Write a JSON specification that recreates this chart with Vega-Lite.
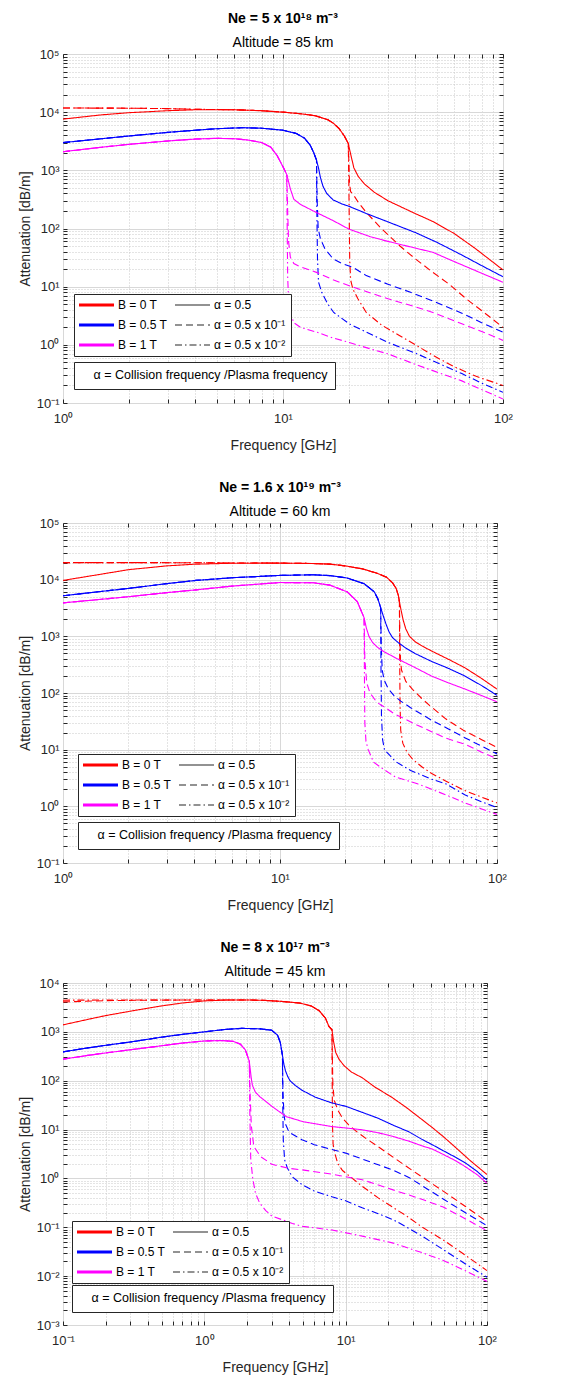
{
"$schema": "https://vega.github.io/schema/vega-lite/v6.json",
"background": "white",
"padding": {"left": 17, "top": 11, "right": 5, "bottom": 0},
"spacing": 27,
"resolve": {"scale": {"color": "independent", "strokeDash": "independent", "strokeWidth": "independent"}, "legend": {"color": "independent", "strokeDash": "independent", "strokeWidth": "independent"}},
"config": {
 "font": "Liberation Sans",
 "view": {"stroke": "#262626", "strokeWidth": 1},
 "title": {"fontSize": 14, "fontWeight": "bold", "color": "#000000", "subtitleFontSize": 14, "subtitleColor": "#000000", "subtitleFontWeight": "normal", "subtitlePadding": 10, "offset": -2, "frame": "group", "anchor": "middle"},
 "axis": {"domain": false, "labelFontSize": 13, "labelColor": "#262626", "titleFontSize": 14, "titleFontWeight": "normal", "titleColor": "#262626", "tickColor": "#262626", "tickSize": -4, "labelPadding": 8, "labelFlush": false, "labelOverlap": false, "labelBound": false,
  "gridColor": {"condition": {"test": "abs(log(datum.value)/LN10 - round(log(datum.value)/LN10)) < 0.01", "value": "#d8d8d8"}, "value": "#c8c8c8"},
  "gridDash": {"condition": {"test": "abs(log(datum.value)/LN10 - round(log(datum.value)/LN10)) < 0.01", "value": []}, "value": [1, 2]},
  "gridWidth": 1,
  "labelExpr": "abs(log(datum.value)/LN10 - round(log(datum.value)/LN10)) < 0.01 ? '10' + (round(log(datum.value)/LN10) == -3 ? '⁻³' : round(log(datum.value)/LN10) == -2 ? '⁻²' : round(log(datum.value)/LN10) == -1 ? '⁻¹' : round(log(datum.value)/LN10) == 0 ? '⁰' : round(log(datum.value)/LN10) == 1 ? '¹' : round(log(datum.value)/LN10) == 2 ? '²' : round(log(datum.value)/LN10) == 3 ? '³' : round(log(datum.value)/LN10) == 4 ? '⁴' : '⁵') : ''"
 },
 "axisBottom": {"labelPadding": 13, "titlePadding": 13},
 "legend": {"labelFont": "Liberation Sans", "labelColor": "#000000", "strokeColor": "#262626", "fillColor": "#ffffff", "orient": "none", "labelLimit": 400}
},
"datasets": {
"p1": [
{"c":"b0","d":"a1","f":1,"v":7600},{"c":"b0","d":"a1","f":1.5,"v":9000},{"c":"b0","d":"a1","f":2,"v":9800},{"c":"b0","d":"a1","f":3,"v":10600},{"c":"b0","d":"a1","f":4,"v":11000},{"c":"b0","d":"a1","f":6,"v":11000},{"c":"b0","d":"a1","f":8,"v":10600},{"c":"b0","d":"a1","f":10,"v":10000},{"c":"b0","d":"a1","f":12,"v":9400},{"c":"b0","d":"a1","f":14,"v":8700},{"c":"b0","d":"a1","f":16,"v":7400},{"c":"b0","d":"a1","f":17,"v":6400},{"c":"b0","d":"a1","f":18,"v":5200},{"c":"b0","d":"a1","f":19,"v":3900},{"c":"b0","d":"a1","f":19.8,"v":2900},{"c":"b0","d":"a1","f":20.3,"v":1900},{"c":"b0","d":"a1","f":21,"v":1100},{"c":"b0","d":"a1","f":22,"v":780},{"c":"b0","d":"a1","f":23.5,"v":580},{"c":"b0","d":"a1","f":26,"v":420},{"c":"b0","d":"a1","f":30,"v":300},{"c":"b0","d":"a1","f":35,"v":228},{"c":"b0","d":"a1","f":40,"v":180},{"c":"b0","d":"a1","f":48,"v":132},{"c":"b0","d":"a1","f":60,"v":82},{"c":"b0","d":"a1","f":75,"v":45},{"c":"b0","d":"a1","f":100,"v":19.4},
{"c":"b0","d":"a2","f":1,"v":11800},{"c":"b0","d":"a2","f":2,"v":11700},{"c":"b0","d":"a2","f":3,"v":11500},{"c":"b0","d":"a2","f":4,"v":11200},{"c":"b0","d":"a2","f":6,"v":11000},{"c":"b0","d":"a2","f":8,"v":10600},{"c":"b0","d":"a2","f":10,"v":10000},{"c":"b0","d":"a2","f":12,"v":9400},{"c":"b0","d":"a2","f":14,"v":8700},{"c":"b0","d":"a2","f":16,"v":7400},{"c":"b0","d":"a2","f":17,"v":6400},{"c":"b0","d":"a2","f":18,"v":5200},{"c":"b0","d":"a2","f":19,"v":3900},{"c":"b0","d":"a2","f":19.8,"v":2900},{"c":"b0","d":"a2","f":19.95,"v":1200},{"c":"b0","d":"a2","f":20.05,"v":600},{"c":"b0","d":"a2","f":20.3,"v":430},{"c":"b0","d":"a2","f":21,"v":370},{"c":"b0","d":"a2","f":22,"v":280},{"c":"b0","d":"a2","f":24,"v":186},{"c":"b0","d":"a2","f":28,"v":100},{"c":"b0","d":"a2","f":34,"v":50},{"c":"b0","d":"a2","f":40,"v":30},{"c":"b0","d":"a2","f":48,"v":17.6},{"c":"b0","d":"a2","f":57,"v":11},{"c":"b0","d":"a2","f":68,"v":6.2},{"c":"b0","d":"a2","f":82,"v":3.6},{"c":"b0","d":"a2","f":100,"v":2},
{"c":"b0","d":"a3","f":1,"v":11800},{"c":"b0","d":"a3","f":2,"v":11700},{"c":"b0","d":"a3","f":3,"v":11500},{"c":"b0","d":"a3","f":4,"v":11200},{"c":"b0","d":"a3","f":6,"v":11000},{"c":"b0","d":"a3","f":8,"v":10600},{"c":"b0","d":"a3","f":10,"v":10000},{"c":"b0","d":"a3","f":12,"v":9400},{"c":"b0","d":"a3","f":14,"v":8700},{"c":"b0","d":"a3","f":16,"v":7400},{"c":"b0","d":"a3","f":17,"v":6400},{"c":"b0","d":"a3","f":18,"v":5200},{"c":"b0","d":"a3","f":19,"v":3900},{"c":"b0","d":"a3","f":19.8,"v":2900},{"c":"b0","d":"a3","f":19.9,"v":800},{"c":"b0","d":"a3","f":20,"v":150},{"c":"b0","d":"a3","f":20.1,"v":30},{"c":"b0","d":"a3","f":20.3,"v":13},{"c":"b0","d":"a3","f":20.8,"v":9},{"c":"b0","d":"a3","f":21.9,"v":6.2},{"c":"b0","d":"a3","f":23.9,"v":3.6},{"c":"b0","d":"a3","f":28,"v":2.2},{"c":"b0","d":"a3","f":33.8,"v":1.45},{"c":"b0","d":"a3","f":40,"v":1},{"c":"b0","d":"a3","f":48,"v":0.66},{"c":"b0","d":"a3","f":60,"v":0.42},{"c":"b0","d":"a3","f":75,"v":0.29},{"c":"b0","d":"a3","f":100,"v":0.2},
{"c":"b05","d":"a1","f":1,"v":3000},{"c":"b05","d":"a1","f":1.5,"v":3500},{"c":"b05","d":"a1","f":2,"v":3900},{"c":"b05","d":"a1","f":3,"v":4500},{"c":"b05","d":"a1","f":4,"v":4900},{"c":"b05","d":"a1","f":5,"v":5200},{"c":"b05","d":"a1","f":6.5,"v":5400},{"c":"b05","d":"a1","f":8,"v":5300},{"c":"b05","d":"a1","f":10,"v":4900},{"c":"b05","d":"a1","f":11.5,"v":4300},{"c":"b05","d":"a1","f":12.5,"v":3600},{"c":"b05","d":"a1","f":13.3,"v":2700},{"c":"b05","d":"a1","f":13.8,"v":2000},{"c":"b05","d":"a1","f":14.2,"v":1500},{"c":"b05","d":"a1","f":14.5,"v":1100},{"c":"b05","d":"a1","f":14.8,"v":750},{"c":"b05","d":"a1","f":15.2,"v":530},{"c":"b05","d":"a1","f":15.8,"v":400},{"c":"b05","d":"a1","f":16.9,"v":310},{"c":"b05","d":"a1","f":18.5,"v":265},{"c":"b05","d":"a1","f":20,"v":240},{"c":"b05","d":"a1","f":24,"v":180},{"c":"b05","d":"a1","f":30,"v":130},{"c":"b05","d":"a1","f":40,"v":85},{"c":"b05","d":"a1","f":50,"v":58},{"c":"b05","d":"a1","f":65,"v":35},{"c":"b05","d":"a1","f":80,"v":23},{"c":"b05","d":"a1","f":100,"v":14.8},
{"c":"b05","d":"a2","f":1,"v":3000},{"c":"b05","d":"a2","f":1.5,"v":3500},{"c":"b05","d":"a2","f":2,"v":3900},{"c":"b05","d":"a2","f":3,"v":4500},{"c":"b05","d":"a2","f":4,"v":4900},{"c":"b05","d":"a2","f":5,"v":5200},{"c":"b05","d":"a2","f":6.5,"v":5400},{"c":"b05","d":"a2","f":8,"v":5300},{"c":"b05","d":"a2","f":10,"v":4900},{"c":"b05","d":"a2","f":11.5,"v":4300},{"c":"b05","d":"a2","f":12.5,"v":3600},{"c":"b05","d":"a2","f":13.3,"v":2700},{"c":"b05","d":"a2","f":13.8,"v":2000},{"c":"b05","d":"a2","f":14.2,"v":1500},{"c":"b05","d":"a2","f":14.3,"v":300},{"c":"b05","d":"a2","f":14.45,"v":100},{"c":"b05","d":"a2","f":14.8,"v":66},{"c":"b05","d":"a2","f":15.5,"v":45},{"c":"b05","d":"a2","f":16.9,"v":30},{"c":"b05","d":"a2","f":18.5,"v":25},{"c":"b05","d":"a2","f":20.8,"v":21.5},{"c":"b05","d":"a2","f":23.9,"v":15.5},{"c":"b05","d":"a2","f":30,"v":11},{"c":"b05","d":"a2","f":38,"v":8},{"c":"b05","d":"a2","f":47.9,"v":5.7},{"c":"b05","d":"a2","f":65,"v":3.5},{"c":"b05","d":"a2","f":80,"v":2.4},{"c":"b05","d":"a2","f":100,"v":1.65},
{"c":"b05","d":"a3","f":1,"v":3000},{"c":"b05","d":"a3","f":1.5,"v":3500},{"c":"b05","d":"a3","f":2,"v":3900},{"c":"b05","d":"a3","f":3,"v":4500},{"c":"b05","d":"a3","f":4,"v":4900},{"c":"b05","d":"a3","f":5,"v":5200},{"c":"b05","d":"a3","f":6.5,"v":5400},{"c":"b05","d":"a3","f":8,"v":5300},{"c":"b05","d":"a3","f":10,"v":4900},{"c":"b05","d":"a3","f":11.5,"v":4300},{"c":"b05","d":"a3","f":12.5,"v":3600},{"c":"b05","d":"a3","f":13.3,"v":2700},{"c":"b05","d":"a3","f":13.8,"v":2000},{"c":"b05","d":"a3","f":14.2,"v":1500},{"c":"b05","d":"a3","f":14.25,"v":200},{"c":"b05","d":"a3","f":14.35,"v":30},{"c":"b05","d":"a3","f":14.5,"v":12},{"c":"b05","d":"a3","f":15,"v":8},{"c":"b05","d":"a3","f":16,"v":5},{"c":"b05","d":"a3","f":17,"v":3.6},{"c":"b05","d":"a3","f":20,"v":2.3},{"c":"b05","d":"a3","f":24,"v":1.64},{"c":"b05","d":"a3","f":30,"v":1.1},{"c":"b05","d":"a3","f":40,"v":0.72},{"c":"b05","d":"a3","f":48,"v":0.53},{"c":"b05","d":"a3","f":65,"v":0.32},{"c":"b05","d":"a3","f":80,"v":0.22},{"c":"b05","d":"a3","f":100,"v":0.153},
{"c":"b1","d":"a1","f":1,"v":2090},{"c":"b1","d":"a1","f":1.5,"v":2500},{"c":"b1","d":"a1","f":2,"v":2800},{"c":"b1","d":"a1","f":3,"v":3200},{"c":"b1","d":"a1","f":4,"v":3450},{"c":"b1","d":"a1","f":5,"v":3550},{"c":"b1","d":"a1","f":6,"v":3500},{"c":"b1","d":"a1","f":7,"v":3300},{"c":"b1","d":"a1","f":8,"v":3000},{"c":"b1","d":"a1","f":8.8,"v":2500},{"c":"b1","d":"a1","f":9.4,"v":1800},{"c":"b1","d":"a1","f":10,"v":1150},{"c":"b1","d":"a1","f":10.4,"v":850},{"c":"b1","d":"a1","f":10.8,"v":480},{"c":"b1","d":"a1","f":11.2,"v":318},{"c":"b1","d":"a1","f":12,"v":260},{"c":"b1","d":"a1","f":12.8,"v":229},{"c":"b1","d":"a1","f":14.2,"v":188},{"c":"b1","d":"a1","f":17,"v":135},{"c":"b1","d":"a1","f":20,"v":97},{"c":"b1","d":"a1","f":25,"v":72},{"c":"b1","d":"a1","f":30,"v":60},{"c":"b1","d":"a1","f":40,"v":46},{"c":"b1","d":"a1","f":48,"v":39},{"c":"b1","d":"a1","f":60,"v":27},{"c":"b1","d":"a1","f":80,"v":17},{"c":"b1","d":"a1","f":100,"v":11.9},
{"c":"b1","d":"a2","f":1,"v":2090},{"c":"b1","d":"a2","f":1.5,"v":2500},{"c":"b1","d":"a2","f":2,"v":2800},{"c":"b1","d":"a2","f":3,"v":3200},{"c":"b1","d":"a2","f":4,"v":3450},{"c":"b1","d":"a2","f":5,"v":3550},{"c":"b1","d":"a2","f":6,"v":3500},{"c":"b1","d":"a2","f":7,"v":3300},{"c":"b1","d":"a2","f":8,"v":3000},{"c":"b1","d":"a2","f":8.8,"v":2500},{"c":"b1","d":"a2","f":9.4,"v":1800},{"c":"b1","d":"a2","f":10,"v":1150},{"c":"b1","d":"a2","f":10.4,"v":850},{"c":"b1","d":"a2","f":10.5,"v":200},{"c":"b1","d":"a2","f":10.6,"v":60},{"c":"b1","d":"a2","f":10.8,"v":32},{"c":"b1","d":"a2","f":11.2,"v":25},{"c":"b1","d":"a2","f":12,"v":22},{"c":"b1","d":"a2","f":14.2,"v":17.6},{"c":"b1","d":"a2","f":17,"v":13},{"c":"b1","d":"a2","f":20,"v":10.4},{"c":"b1","d":"a2","f":25,"v":7.8},{"c":"b1","d":"a2","f":30,"v":6.2},{"c":"b1","d":"a2","f":40,"v":4.5},{"c":"b1","d":"a2","f":48,"v":3.6},{"c":"b1","d":"a2","f":65,"v":2.3},{"c":"b1","d":"a2","f":80,"v":1.7},{"c":"b1","d":"a2","f":100,"v":1.19},
{"c":"b1","d":"a3","f":1,"v":2090},{"c":"b1","d":"a3","f":1.5,"v":2500},{"c":"b1","d":"a3","f":2,"v":2800},{"c":"b1","d":"a3","f":3,"v":3200},{"c":"b1","d":"a3","f":4,"v":3450},{"c":"b1","d":"a3","f":5,"v":3550},{"c":"b1","d":"a3","f":6,"v":3500},{"c":"b1","d":"a3","f":7,"v":3300},{"c":"b1","d":"a3","f":8,"v":3000},{"c":"b1","d":"a3","f":8.8,"v":2500},{"c":"b1","d":"a3","f":9.4,"v":1800},{"c":"b1","d":"a3","f":10,"v":1150},{"c":"b1","d":"a3","f":10.4,"v":850},{"c":"b1","d":"a3","f":10.45,"v":100},{"c":"b1","d":"a3","f":10.5,"v":15},{"c":"b1","d":"a3","f":10.6,"v":6},{"c":"b1","d":"a3","f":10.8,"v":3.5},{"c":"b1","d":"a3","f":11.2,"v":2.4},{"c":"b1","d":"a3","f":12,"v":2},{"c":"b1","d":"a3","f":14.3,"v":1.64},{"c":"b1","d":"a3","f":17,"v":1.3},{"c":"b1","d":"a3","f":20,"v":1.1},{"c":"b1","d":"a3","f":25,"v":0.85},{"c":"b1","d":"a3","f":30,"v":0.7},{"c":"b1","d":"a3","f":40,"v":0.46},{"c":"b1","d":"a3","f":48,"v":0.36},{"c":"b1","d":"a3","f":65,"v":0.24},{"c":"b1","d":"a3","f":80,"v":0.17},{"c":"b1","d":"a3","f":100,"v":0.117}
],
"p2": [
{"c":"b0","d":"a1","f":1,"v":9700},{"c":"b0","d":"a1","f":1.5,"v":12500},{"c":"b0","d":"a1","f":2,"v":15000},{"c":"b0","d":"a1","f":3,"v":17500},{"c":"b0","d":"a1","f":4,"v":18700},{"c":"b0","d":"a1","f":6,"v":19500},{"c":"b0","d":"a1","f":10,"v":19600},{"c":"b0","d":"a1","f":14,"v":19300},{"c":"b0","d":"a1","f":17,"v":18800},{"c":"b0","d":"a1","f":20,"v":17500},{"c":"b0","d":"a1","f":24,"v":15500},{"c":"b0","d":"a1","f":28,"v":13000},{"c":"b0","d":"a1","f":31,"v":11000},{"c":"b0","d":"a1","f":33,"v":8800},{"c":"b0","d":"a1","f":34.3,"v":7000},{"c":"b0","d":"a1","f":35.1,"v":5300},{"c":"b0","d":"a1","f":35.5,"v":4100},{"c":"b0","d":"a1","f":36.2,"v":2800},{"c":"b0","d":"a1","f":37,"v":1900},{"c":"b0","d":"a1","f":38,"v":1350},{"c":"b0","d":"a1","f":39.5,"v":1000},{"c":"b0","d":"a1","f":42,"v":800},{"c":"b0","d":"a1","f":45,"v":680},{"c":"b0","d":"a1","f":50,"v":550},{"c":"b0","d":"a1","f":60,"v":390},{"c":"b0","d":"a1","f":71,"v":280},{"c":"b0","d":"a1","f":85,"v":180},{"c":"b0","d":"a1","f":100,"v":117},
{"c":"b0","d":"a2","f":1,"v":20000},{"c":"b0","d":"a2","f":2,"v":20000},{"c":"b0","d":"a2","f":4,"v":19900},{"c":"b0","d":"a2","f":6,"v":19700},{"c":"b0","d":"a2","f":10,"v":19600},{"c":"b0","d":"a2","f":14,"v":19300},{"c":"b0","d":"a2","f":17,"v":18800},{"c":"b0","d":"a2","f":20,"v":17500},{"c":"b0","d":"a2","f":24,"v":15500},{"c":"b0","d":"a2","f":28,"v":13000},{"c":"b0","d":"a2","f":31,"v":11000},{"c":"b0","d":"a2","f":33,"v":8800},{"c":"b0","d":"a2","f":34.3,"v":7000},{"c":"b0","d":"a2","f":35.1,"v":5300},{"c":"b0","d":"a2","f":35.5,"v":4100},{"c":"b0","d":"a2","f":35.7,"v":900},{"c":"b0","d":"a2","f":35.9,"v":400},{"c":"b0","d":"a2","f":36.3,"v":254},{"c":"b0","d":"a2","f":38,"v":160},{"c":"b0","d":"a2","f":40.8,"v":116},{"c":"b0","d":"a2","f":45,"v":80},{"c":"b0","d":"a2","f":49,"v":60},{"c":"b0","d":"a2","f":58,"v":35},{"c":"b0","d":"a2","f":70,"v":22},{"c":"b0","d":"a2","f":85,"v":15},{"c":"b0","d":"a2","f":100,"v":11},
{"c":"b0","d":"a3","f":1,"v":20000},{"c":"b0","d":"a3","f":2,"v":20000},{"c":"b0","d":"a3","f":4,"v":19900},{"c":"b0","d":"a3","f":6,"v":19700},{"c":"b0","d":"a3","f":10,"v":19600},{"c":"b0","d":"a3","f":14,"v":19300},{"c":"b0","d":"a3","f":17,"v":18800},{"c":"b0","d":"a3","f":20,"v":17500},{"c":"b0","d":"a3","f":24,"v":15500},{"c":"b0","d":"a3","f":28,"v":13000},{"c":"b0","d":"a3","f":31,"v":11000},{"c":"b0","d":"a3","f":33,"v":8800},{"c":"b0","d":"a3","f":34.3,"v":7000},{"c":"b0","d":"a3","f":35.1,"v":5300},{"c":"b0","d":"a3","f":35.5,"v":4100},{"c":"b0","d":"a3","f":35.6,"v":500},{"c":"b0","d":"a3","f":35.75,"v":60},{"c":"b0","d":"a3","f":36,"v":22},{"c":"b0","d":"a3","f":36.8,"v":13},{"c":"b0","d":"a3","f":38.5,"v":9},{"c":"b0","d":"a3","f":40.8,"v":6.8},{"c":"b0","d":"a3","f":45,"v":5},{"c":"b0","d":"a3","f":50,"v":3.8},{"c":"b0","d":"a3","f":58,"v":2.8},{"c":"b0","d":"a3","f":71,"v":1.9},{"c":"b0","d":"a3","f":85,"v":1.45},{"c":"b0","d":"a3","f":100,"v":1.15},
{"c":"b05","d":"a1","f":1,"v":5200},{"c":"b05","d":"a1","f":1.5,"v":6200},{"c":"b05","d":"a1","f":2,"v":7000},{"c":"b05","d":"a1","f":3,"v":8500},{"c":"b05","d":"a1","f":4.1,"v":9700},{"c":"b05","d":"a1","f":6,"v":10800},{"c":"b05","d":"a1","f":10,"v":11900},{"c":"b05","d":"a1","f":14.3,"v":12200},{"c":"b05","d":"a1","f":17,"v":11800},{"c":"b05","d":"a1","f":20.4,"v":10700},{"c":"b05","d":"a1","f":24.4,"v":8500},{"c":"b05","d":"a1","f":27.2,"v":6100},{"c":"b05","d":"a1","f":28.3,"v":4500},{"c":"b05","d":"a1","f":29.1,"v":3200},{"c":"b05","d":"a1","f":29.8,"v":2400},{"c":"b05","d":"a1","f":30.7,"v":1700},{"c":"b05","d":"a1","f":31.8,"v":1200},{"c":"b05","d":"a1","f":33,"v":950},{"c":"b05","d":"a1","f":35,"v":780},{"c":"b05","d":"a1","f":38,"v":620},{"c":"b05","d":"a1","f":41.8,"v":500},{"c":"b05","d":"a1","f":50,"v":360},{"c":"b05","d":"a1","f":60,"v":270},{"c":"b05","d":"a1","f":71,"v":200},{"c":"b05","d":"a1","f":85,"v":135},{"c":"b05","d":"a1","f":100,"v":91},
{"c":"b05","d":"a2","f":1,"v":5200},{"c":"b05","d":"a2","f":1.5,"v":6200},{"c":"b05","d":"a2","f":2,"v":7000},{"c":"b05","d":"a2","f":3,"v":8500},{"c":"b05","d":"a2","f":4.1,"v":9700},{"c":"b05","d":"a2","f":6,"v":10800},{"c":"b05","d":"a2","f":10,"v":11900},{"c":"b05","d":"a2","f":14.3,"v":12200},{"c":"b05","d":"a2","f":17,"v":11800},{"c":"b05","d":"a2","f":20.4,"v":10700},{"c":"b05","d":"a2","f":24.4,"v":8500},{"c":"b05","d":"a2","f":27.2,"v":6100},{"c":"b05","d":"a2","f":28.3,"v":4500},{"c":"b05","d":"a2","f":29.1,"v":3200},{"c":"b05","d":"a2","f":29.3,"v":600},{"c":"b05","d":"a2","f":29.6,"v":250},{"c":"b05","d":"a2","f":30.2,"v":170},{"c":"b05","d":"a2","f":31.5,"v":120},{"c":"b05","d":"a2","f":33.6,"v":89},{"c":"b05","d":"a2","f":36,"v":72},{"c":"b05","d":"a2","f":40,"v":55},{"c":"b05","d":"a2","f":50,"v":33},{"c":"b05","d":"a2","f":60,"v":23},{"c":"b05","d":"a2","f":71,"v":16.3},{"c":"b05","d":"a2","f":85,"v":11.5},{"c":"b05","d":"a2","f":100,"v":8.4},
{"c":"b05","d":"a3","f":1,"v":5200},{"c":"b05","d":"a3","f":1.5,"v":6200},{"c":"b05","d":"a3","f":2,"v":7000},{"c":"b05","d":"a3","f":3,"v":8500},{"c":"b05","d":"a3","f":4.1,"v":9700},{"c":"b05","d":"a3","f":6,"v":10800},{"c":"b05","d":"a3","f":10,"v":11900},{"c":"b05","d":"a3","f":14.3,"v":12200},{"c":"b05","d":"a3","f":17,"v":11800},{"c":"b05","d":"a3","f":20.4,"v":10700},{"c":"b05","d":"a3","f":24.4,"v":8500},{"c":"b05","d":"a3","f":27.2,"v":6100},{"c":"b05","d":"a3","f":28.3,"v":4500},{"c":"b05","d":"a3","f":29.1,"v":3200},{"c":"b05","d":"a3","f":29.2,"v":300},{"c":"b05","d":"a3","f":29.35,"v":40},{"c":"b05","d":"a3","f":29.7,"v":15},{"c":"b05","d":"a3","f":30.3,"v":10},{"c":"b05","d":"a3","f":32,"v":8},{"c":"b05","d":"a3","f":34,"v":6.2},{"c":"b05","d":"a3","f":40,"v":4.3},{"c":"b05","d":"a3","f":50,"v":3},{"c":"b05","d":"a3","f":58,"v":2.5},{"c":"b05","d":"a3","f":71,"v":1.6},{"c":"b05","d":"a3","f":85,"v":1.2},{"c":"b05","d":"a3","f":100,"v":0.95},
{"c":"b1","d":"a1","f":1,"v":3900},{"c":"b1","d":"a1","f":1.5,"v":4500},{"c":"b1","d":"a1","f":2,"v":5000},{"c":"b1","d":"a1","f":3,"v":5900},{"c":"b1","d":"a1","f":4.1,"v":6600},{"c":"b1","d":"a1","f":6,"v":7700},{"c":"b1","d":"a1","f":10,"v":8900},{"c":"b1","d":"a1","f":14.3,"v":8800},{"c":"b1","d":"a1","f":17,"v":8000},{"c":"b1","d":"a1","f":20.4,"v":6100},{"c":"b1","d":"a1","f":22.7,"v":4100},{"c":"b1","d":"a1","f":24.4,"v":2140},{"c":"b1","d":"a1","f":25,"v":1400},{"c":"b1","d":"a1","f":25.7,"v":1000},{"c":"b1","d":"a1","f":26.7,"v":780},{"c":"b1","d":"a1","f":28,"v":650},{"c":"b1","d":"a1","f":30,"v":540},{"c":"b1","d":"a1","f":34.8,"v":400},{"c":"b1","d":"a1","f":42,"v":280},{"c":"b1","d":"a1","f":49.8,"v":200},{"c":"b1","d":"a1","f":60,"v":150},{"c":"b1","d":"a1","f":71.4,"v":117},{"c":"b1","d":"a1","f":85,"v":90},{"c":"b1","d":"a1","f":100,"v":70},
{"c":"b1","d":"a2","f":1,"v":3900},{"c":"b1","d":"a2","f":1.5,"v":4500},{"c":"b1","d":"a2","f":2,"v":5000},{"c":"b1","d":"a2","f":3,"v":5900},{"c":"b1","d":"a2","f":4.1,"v":6600},{"c":"b1","d":"a2","f":6,"v":7700},{"c":"b1","d":"a2","f":10,"v":8900},{"c":"b1","d":"a2","f":14.3,"v":8800},{"c":"b1","d":"a2","f":17,"v":8000},{"c":"b1","d":"a2","f":20.4,"v":6100},{"c":"b1","d":"a2","f":22.7,"v":4100},{"c":"b1","d":"a2","f":24.4,"v":2140},{"c":"b1","d":"a2","f":24.6,"v":400},{"c":"b1","d":"a2","f":25.1,"v":150},{"c":"b1","d":"a2","f":26,"v":100},{"c":"b1","d":"a2","f":28,"v":68},{"c":"b1","d":"a2","f":30,"v":58},{"c":"b1","d":"a2","f":33.6,"v":43},{"c":"b1","d":"a2","f":43,"v":27},{"c":"b1","d":"a2","f":58,"v":16},{"c":"b1","d":"a2","f":71,"v":12.5},{"c":"b1","d":"a2","f":85,"v":9},{"c":"b1","d":"a2","f":100,"v":6.9},
{"c":"b1","d":"a3","f":1,"v":3900},{"c":"b1","d":"a3","f":1.5,"v":4500},{"c":"b1","d":"a3","f":2,"v":5000},{"c":"b1","d":"a3","f":3,"v":5900},{"c":"b1","d":"a3","f":4.1,"v":6600},{"c":"b1","d":"a3","f":6,"v":7700},{"c":"b1","d":"a3","f":10,"v":8900},{"c":"b1","d":"a3","f":14.3,"v":8800},{"c":"b1","d":"a3","f":17,"v":8000},{"c":"b1","d":"a3","f":20.4,"v":6100},{"c":"b1","d":"a3","f":22.7,"v":4100},{"c":"b1","d":"a3","f":24.4,"v":2140},{"c":"b1","d":"a3","f":24.5,"v":200},{"c":"b1","d":"a3","f":24.6,"v":30},{"c":"b1","d":"a3","f":24.9,"v":14},{"c":"b1","d":"a3","f":25.5,"v":10},{"c":"b1","d":"a3","f":27,"v":6},{"c":"b1","d":"a3","f":30,"v":4.5},{"c":"b1","d":"a3","f":34,"v":3.3},{"c":"b1","d":"a3","f":43,"v":2.5},{"c":"b1","d":"a3","f":50,"v":2},{"c":"b1","d":"a3","f":58,"v":1.6},{"c":"b1","d":"a3","f":71,"v":1.15},{"c":"b1","d":"a3","f":85,"v":0.9},{"c":"b1","d":"a3","f":100,"v":0.72}
],
"p3": [
{"c":"b0","d":"a1","f":0.1,"v":1390},{"c":"b0","d":"a1","f":0.15,"v":1800},{"c":"b0","d":"a1","f":0.2,"v":2150},{"c":"b0","d":"a1","f":0.3,"v":2650},{"c":"b0","d":"a1","f":0.5,"v":3400},{"c":"b0","d":"a1","f":0.7,"v":3900},{"c":"b0","d":"a1","f":1,"v":4300},{"c":"b0","d":"a1","f":1.5,"v":4500},{"c":"b0","d":"a1","f":2,"v":4500},{"c":"b0","d":"a1","f":2.7,"v":4400},{"c":"b0","d":"a1","f":3.5,"v":4200},{"c":"b0","d":"a1","f":4.7,"v":3900},{"c":"b0","d":"a1","f":5.7,"v":3400},{"c":"b0","d":"a1","f":6.5,"v":2700},{"c":"b0","d":"a1","f":7.2,"v":1900},{"c":"b0","d":"a1","f":7.6,"v":1300},{"c":"b0","d":"a1","f":8,"v":1100},{"c":"b0","d":"a1","f":8.2,"v":650},{"c":"b0","d":"a1","f":8.5,"v":380},{"c":"b0","d":"a1","f":9,"v":270},{"c":"b0","d":"a1","f":9.8,"v":200},{"c":"b0","d":"a1","f":11,"v":150},{"c":"b0","d":"a1","f":13.1,"v":115},{"c":"b0","d":"a1","f":16,"v":75},{"c":"b0","d":"a1","f":21.4,"v":45},{"c":"b0","d":"a1","f":27,"v":28},{"c":"b0","d":"a1","f":35,"v":15.7},{"c":"b0","d":"a1","f":41,"v":11},{"c":"b0","d":"a1","f":49,"v":7.2},{"c":"b0","d":"a1","f":60,"v":4.3},{"c":"b0","d":"a1","f":75,"v":2.4},{"c":"b0","d":"a1","f":100,"v":1.2},
{"c":"b0","d":"a2","f":0.1,"v":4100},{"c":"b0","d":"a2","f":0.2,"v":4350},{"c":"b0","d":"a2","f":0.4,"v":4450},{"c":"b0","d":"a2","f":0.7,"v":4480},{"c":"b0","d":"a2","f":1,"v":4500},{"c":"b0","d":"a2","f":1.5,"v":4500},{"c":"b0","d":"a2","f":2,"v":4500},{"c":"b0","d":"a2","f":2.7,"v":4400},{"c":"b0","d":"a2","f":3.5,"v":4200},{"c":"b0","d":"a2","f":4.7,"v":3900},{"c":"b0","d":"a2","f":5.7,"v":3400},{"c":"b0","d":"a2","f":6.5,"v":2700},{"c":"b0","d":"a2","f":7.2,"v":1900},{"c":"b0","d":"a2","f":7.6,"v":1300},{"c":"b0","d":"a2","f":8,"v":1100},{"c":"b0","d":"a2","f":8.05,"v":300},{"c":"b0","d":"a2","f":8.12,"v":80},{"c":"b0","d":"a2","f":8.3,"v":40},{"c":"b0","d":"a2","f":8.8,"v":25},{"c":"b0","d":"a2","f":9.5,"v":17},{"c":"b0","d":"a2","f":10.5,"v":12.5},{"c":"b0","d":"a2","f":12,"v":9},{"c":"b0","d":"a2","f":14,"v":6.5},{"c":"b0","d":"a2","f":16.7,"v":4.6},{"c":"b0","d":"a2","f":20,"v":3.2},{"c":"b0","d":"a2","f":27,"v":1.75},{"c":"b0","d":"a2","f":35,"v":1.05},{"c":"b0","d":"a2","f":49,"v":0.55},{"c":"b0","d":"a2","f":70,"v":0.27},{"c":"b0","d":"a2","f":100,"v":0.13},
{"c":"b0","d":"a3","f":0.1,"v":4450},{"c":"b0","d":"a3","f":0.2,"v":4480},{"c":"b0","d":"a3","f":0.5,"v":4500},{"c":"b0","d":"a3","f":1,"v":4500},{"c":"b0","d":"a3","f":1.5,"v":4500},{"c":"b0","d":"a3","f":2,"v":4500},{"c":"b0","d":"a3","f":2.7,"v":4400},{"c":"b0","d":"a3","f":3.5,"v":4200},{"c":"b0","d":"a3","f":4.7,"v":3900},{"c":"b0","d":"a3","f":5.7,"v":3400},{"c":"b0","d":"a3","f":6.5,"v":2700},{"c":"b0","d":"a3","f":7.2,"v":1900},{"c":"b0","d":"a3","f":7.6,"v":1300},{"c":"b0","d":"a3","f":8,"v":1100},{"c":"b0","d":"a3","f":8.03,"v":100},{"c":"b0","d":"a3","f":8.07,"v":12},{"c":"b0","d":"a3","f":8.15,"v":5},{"c":"b0","d":"a3","f":8.4,"v":3.2},{"c":"b0","d":"a3","f":8.8,"v":2},{"c":"b0","d":"a3","f":9.5,"v":1.45},{"c":"b0","d":"a3","f":10.7,"v":1.1},{"c":"b0","d":"a3","f":13.1,"v":0.69},{"c":"b0","d":"a3","f":17,"v":0.4},{"c":"b0","d":"a3","f":21.4,"v":0.26},{"c":"b0","d":"a3","f":27,"v":0.17},{"c":"b0","d":"a3","f":34.9,"v":0.1},{"c":"b0","d":"a3","f":49,"v":0.055},{"c":"b0","d":"a3","f":70,"v":0.027},{"c":"b0","d":"a3","f":100,"v":0.013},
{"c":"b05","d":"a1","f":0.1,"v":390},{"c":"b05","d":"a1","f":0.15,"v":470},{"c":"b05","d":"a1","f":0.2,"v":530},{"c":"b05","d":"a1","f":0.3,"v":620},{"c":"b05","d":"a1","f":0.5,"v":780},{"c":"b05","d":"a1","f":0.7,"v":890},{"c":"b05","d":"a1","f":1,"v":1000},{"c":"b05","d":"a1","f":1.4,"v":1120},{"c":"b05","d":"a1","f":1.85,"v":1180},{"c":"b05","d":"a1","f":2.5,"v":1150},{"c":"b05","d":"a1","f":3,"v":1080},{"c":"b05","d":"a1","f":3.3,"v":850},{"c":"b05","d":"a1","f":3.45,"v":600},{"c":"b05","d":"a1","f":3.57,"v":330},{"c":"b05","d":"a1","f":3.65,"v":220},{"c":"b05","d":"a1","f":3.75,"v":160},{"c":"b05","d":"a1","f":3.9,"v":120},{"c":"b05","d":"a1","f":4.04,"v":100},{"c":"b05","d":"a1","f":4.4,"v":80},{"c":"b05","d":"a1","f":4.9,"v":64},{"c":"b05","d":"a1","f":6.1,"v":46},{"c":"b05","d":"a1","f":8,"v":35},{"c":"b05","d":"a1","f":10,"v":30},{"c":"b05","d":"a1","f":13.1,"v":22.5},{"c":"b05","d":"a1","f":17,"v":17},{"c":"b05","d":"a1","f":21.4,"v":12.5},{"c":"b05","d":"a1","f":28,"v":9},{"c":"b05","d":"a1","f":35,"v":6.2},{"c":"b05","d":"a1","f":41,"v":4.9},{"c":"b05","d":"a1","f":49,"v":3.7},{"c":"b05","d":"a1","f":60,"v":2.7},{"c":"b05","d":"a1","f":70,"v":2.1},{"c":"b05","d":"a1","f":85,"v":1.4},{"c":"b05","d":"a1","f":100,"v":0.92},
{"c":"b05","d":"a2","f":0.1,"v":390},{"c":"b05","d":"a2","f":0.15,"v":470},{"c":"b05","d":"a2","f":0.2,"v":530},{"c":"b05","d":"a2","f":0.3,"v":620},{"c":"b05","d":"a2","f":0.5,"v":780},{"c":"b05","d":"a2","f":0.7,"v":890},{"c":"b05","d":"a2","f":1,"v":1000},{"c":"b05","d":"a2","f":1.4,"v":1120},{"c":"b05","d":"a2","f":1.85,"v":1180},{"c":"b05","d":"a2","f":2.5,"v":1150},{"c":"b05","d":"a2","f":3,"v":1080},{"c":"b05","d":"a2","f":3.3,"v":850},{"c":"b05","d":"a2","f":3.45,"v":600},{"c":"b05","d":"a2","f":3.57,"v":330},{"c":"b05","d":"a2","f":3.6,"v":60},{"c":"b05","d":"a2","f":3.66,"v":20},{"c":"b05","d":"a2","f":3.75,"v":13},{"c":"b05","d":"a2","f":3.9,"v":10},{"c":"b05","d":"a2","f":4.04,"v":8.6},{"c":"b05","d":"a2","f":4.9,"v":6.2},{"c":"b05","d":"a2","f":6,"v":4.9},{"c":"b05","d":"a2","f":8,"v":3.9},{"c":"b05","d":"a2","f":10,"v":3.3},{"c":"b05","d":"a2","f":13.1,"v":2.5},{"c":"b05","d":"a2","f":17,"v":1.9},{"c":"b05","d":"a2","f":21.4,"v":1.5},{"c":"b05","d":"a2","f":28,"v":1.05},{"c":"b05","d":"a2","f":35,"v":0.7},{"c":"b05","d":"a2","f":49,"v":0.38},{"c":"b05","d":"a2","f":70,"v":0.2},{"c":"b05","d":"a2","f":100,"v":0.108},
{"c":"b05","d":"a3","f":0.1,"v":390},{"c":"b05","d":"a3","f":0.15,"v":470},{"c":"b05","d":"a3","f":0.2,"v":530},{"c":"b05","d":"a3","f":0.3,"v":620},{"c":"b05","d":"a3","f":0.5,"v":780},{"c":"b05","d":"a3","f":0.7,"v":890},{"c":"b05","d":"a3","f":1,"v":1000},{"c":"b05","d":"a3","f":1.4,"v":1120},{"c":"b05","d":"a3","f":1.85,"v":1180},{"c":"b05","d":"a3","f":2.5,"v":1150},{"c":"b05","d":"a3","f":3,"v":1080},{"c":"b05","d":"a3","f":3.3,"v":850},{"c":"b05","d":"a3","f":3.45,"v":600},{"c":"b05","d":"a3","f":3.57,"v":330},{"c":"b05","d":"a3","f":3.59,"v":30},{"c":"b05","d":"a3","f":3.62,"v":6},{"c":"b05","d":"a3","f":3.7,"v":2.4},{"c":"b05","d":"a3","f":3.85,"v":1.7},{"c":"b05","d":"a3","f":4,"v":1.35},{"c":"b05","d":"a3","f":4.24,"v":1.05},{"c":"b05","d":"a3","f":4.9,"v":0.75},{"c":"b05","d":"a3","f":6,"v":0.55},{"c":"b05","d":"a3","f":8,"v":0.42},{"c":"b05","d":"a3","f":10,"v":0.35},{"c":"b05","d":"a3","f":13.1,"v":0.25},{"c":"b05","d":"a3","f":17,"v":0.19},{"c":"b05","d":"a3","f":22,"v":0.14},{"c":"b05","d":"a3","f":28,"v":0.095},{"c":"b05","d":"a3","f":35,"v":0.065},{"c":"b05","d":"a3","f":49,"v":0.035},{"c":"b05","d":"a3","f":70,"v":0.018},{"c":"b05","d":"a3","f":100,"v":0.0095},
{"c":"b1","d":"a1","f":0.1,"v":276},{"c":"b1","d":"a1","f":0.15,"v":330},{"c":"b1","d":"a1","f":0.2,"v":370},{"c":"b1","d":"a1","f":0.3,"v":430},{"c":"b1","d":"a1","f":0.5,"v":520},{"c":"b1","d":"a1","f":0.7,"v":590},{"c":"b1","d":"a1","f":1,"v":650},{"c":"b1","d":"a1","f":1.3,"v":665},{"c":"b1","d":"a1","f":1.6,"v":640},{"c":"b1","d":"a1","f":1.8,"v":560},{"c":"b1","d":"a1","f":1.95,"v":430},{"c":"b1","d":"a1","f":2.08,"v":250},{"c":"b1","d":"a1","f":2.15,"v":110},{"c":"b1","d":"a1","f":2.19,"v":80},{"c":"b1","d":"a1","f":2.3,"v":58},{"c":"b1","d":"a1","f":2.47,"v":47},{"c":"b1","d":"a1","f":3,"v":30},{"c":"b1","d":"a1","f":3.8,"v":18.4},{"c":"b1","d":"a1","f":5,"v":14.5},{"c":"b1","d":"a1","f":8,"v":11.5},{"c":"b1","d":"a1","f":10,"v":10.8},{"c":"b1","d":"a1","f":13.1,"v":9.9},{"c":"b1","d":"a1","f":17,"v":8.6},{"c":"b1","d":"a1","f":21.4,"v":7.3},{"c":"b1","d":"a1","f":28,"v":5.8},{"c":"b1","d":"a1","f":35,"v":4.6},{"c":"b1","d":"a1","f":41,"v":4},{"c":"b1","d":"a1","f":49,"v":3.1},{"c":"b1","d":"a1","f":60,"v":2.3},{"c":"b1","d":"a1","f":70,"v":1.75},{"c":"b1","d":"a1","f":85,"v":1.2},{"c":"b1","d":"a1","f":100,"v":0.8},
{"c":"b1","d":"a2","f":0.1,"v":276},{"c":"b1","d":"a2","f":0.15,"v":330},{"c":"b1","d":"a2","f":0.2,"v":370},{"c":"b1","d":"a2","f":0.3,"v":430},{"c":"b1","d":"a2","f":0.5,"v":520},{"c":"b1","d":"a2","f":0.7,"v":590},{"c":"b1","d":"a2","f":1,"v":650},{"c":"b1","d":"a2","f":1.3,"v":665},{"c":"b1","d":"a2","f":1.6,"v":640},{"c":"b1","d":"a2","f":1.8,"v":560},{"c":"b1","d":"a2","f":1.95,"v":430},{"c":"b1","d":"a2","f":2.08,"v":250},{"c":"b1","d":"a2","f":2.11,"v":50},{"c":"b1","d":"a2","f":2.15,"v":12},{"c":"b1","d":"a2","f":2.24,"v":4.5},{"c":"b1","d":"a2","f":2.5,"v":2.8},{"c":"b1","d":"a2","f":3,"v":1.95},{"c":"b1","d":"a2","f":4,"v":1.6},{"c":"b1","d":"a2","f":4.9,"v":1.5},{"c":"b1","d":"a2","f":8,"v":1.22},{"c":"b1","d":"a2","f":13.1,"v":0.94},{"c":"b1","d":"a2","f":21.4,"v":0.59},{"c":"b1","d":"a2","f":35,"v":0.37},{"c":"b1","d":"a2","f":49,"v":0.26},{"c":"b1","d":"a2","f":70,"v":0.15},{"c":"b1","d":"a2","f":100,"v":0.085},
{"c":"b1","d":"a3","f":0.1,"v":276},{"c":"b1","d":"a3","f":0.15,"v":330},{"c":"b1","d":"a3","f":0.2,"v":370},{"c":"b1","d":"a3","f":0.3,"v":430},{"c":"b1","d":"a3","f":0.5,"v":520},{"c":"b1","d":"a3","f":0.7,"v":590},{"c":"b1","d":"a3","f":1,"v":650},{"c":"b1","d":"a3","f":1.3,"v":665},{"c":"b1","d":"a3","f":1.6,"v":640},{"c":"b1","d":"a3","f":1.8,"v":560},{"c":"b1","d":"a3","f":1.95,"v":430},{"c":"b1","d":"a3","f":2.08,"v":250},{"c":"b1","d":"a3","f":2.1,"v":20},{"c":"b1","d":"a3","f":2.13,"v":2.5},{"c":"b1","d":"a3","f":2.2,"v":1},{"c":"b1","d":"a3","f":2.3,"v":0.5},{"c":"b1","d":"a3","f":2.47,"v":0.31},{"c":"b1","d":"a3","f":2.72,"v":0.22},{"c":"b1","d":"a3","f":3,"v":0.17},{"c":"b1","d":"a3","f":4.2,"v":0.12},{"c":"b1","d":"a3","f":4.9,"v":0.105},{"c":"b1","d":"a3","f":8,"v":0.088},{"c":"b1","d":"a3","f":13.1,"v":0.066},{"c":"b1","d":"a3","f":21.4,"v":0.048},{"c":"b1","d":"a3","f":35,"v":0.03},{"c":"b1","d":"a3","f":49,"v":0.021},{"c":"b1","d":"a3","f":70,"v":0.013},{"c":"b1","d":"a3","f":100,"v":0.0078}
]
},
"vconcat": [
{
 "title": {"text": "Ne = 5 x 10¹⁸ m⁻³", "subtitle": "Altitude = 85 km"},
 "width": 440, "height": 349,
 "data": {"name": "p1"},
 "layer": [
  {"mark": {"type": "point", "opacity": 0},
   "encoding": {
    "x": {"field": "f", "type": "quantitative", "scale": {"type": "log", "domain": [1, 100], "nice": false}, "axis": {"orient": "top", "values": [1,2,3,4,5,6,7,8,9,10,20,30,40,50,60,70,80,90,100], "labels": false, "grid": false, "title": null}},
    "y": {"field": "v", "type": "quantitative", "scale": {"type": "log", "domain": [0.1, 100000], "nice": false}, "axis": {"orient": "right", "values": [0.1,0.2,0.3,0.4,0.5,0.6,0.7,0.8,0.9,1,2,3,4,5,6,7,8,9,10,20,30,40,50,60,70,80,90,100,200,300,400,500,600,700,800,900,1000,2000,3000,4000,5000,6000,7000,8000,9000,10000,20000,30000,40000,50000,60000,70000,80000,90000,100000], "labels": false, "grid": false, "title": null}}
   }},
  {"mark": {"type": "line", "clip": true},
   "encoding": {
    "x": {"field": "f", "type": "quantitative", "scale": {"type": "log", "domain": [1, 100], "nice": false}, "axis": {"orient": "bottom", "values": [1,2,3,4,5,6,7,8,9,10,20,30,40,50,60,70,80,90,100], "grid": true, "title": "Frequency [GHz]"}},
    "y": {"field": "v", "type": "quantitative", "scale": {"type": "log", "domain": [0.1, 100000], "nice": false}, "axis": {"orient": "left", "values": [0.1,0.2,0.3,0.4,0.5,0.6,0.7,0.8,0.9,1,2,3,4,5,6,7,8,9,10,20,30,40,50,60,70,80,90,100,200,300,400,500,600,700,800,900,1000,2000,3000,4000,5000,6000,7000,8000,9000,10000,20000,30000,40000,50000,60000,70000,80000,90000,100000], "grid": true, "title": "Attenuation [dB/m]"}},
    "color": {"field": "c", "type": "nominal", "scale": {"domain": ["b0","b05","b1","a1","a2","a3"], "range": ["#ff0000","#0000ff","#ff00ff","#262626","#262626","#262626"]},
     "legend": {"title": null, "legendX": 11, "legendY": 240, "columns": 2, "symbolType": "stroke", "symbolSize": 1225, "symbolOffset": 11.5, "labelFontSize": 12, "rowPadding": 8, "columnPadding": 4, "labelOffset": 15.5, "padding": 5,
      "labelExpr": "datum.value == 'b0' ? 'B = 0 T' : datum.value == 'b05' ? 'B = 0.5 T' : datum.value == 'b1' ? 'B = 1 T' : datum.value == 'a1' ? 'α = 0.5' : datum.value == 'a2' ? 'α = 0.5 x 10⁻¹' : 'α = 0.5 x 10⁻²'",
      "encode": {"symbols": {"update": {"strokeWidth": {"signal": "(datum.value == 'b0' || datum.value == 'b05' || datum.value == 'b1') ? 3 : 1.2"}, "strokeDash": {"signal": "datum.value == 'a2' ? [7,4] : datum.value == 'a3' ? [7,3,1.5,3] : [1,0]"}}}}}},
    "strokeDash": {"field": "d", "type": "nominal", "scale": {"domain": ["a1","a2","a3"], "range": [[1,0],[7,4],[7,3,1.5,3]]}, "legend": null},
    "strokeWidth": {"datum": "α = Collision frequency /Plasma frequency", "type": "nominal", "scale": {"range": [1.1, 1.1]},
     "legend": {"title": null, "legendX": 11, "legendY": 308, "symbolSize": 0, "symbolOpacity": 0, "labelOffset": 0, "padding": 7, "labelFontSize": 12.5}}
   }}
 ],
 "resolve": {"axis": {"x": "independent", "y": "independent"}}
},
{
 "title": {"text": "Ne = 1.6 x 10¹⁹ m⁻³", "subtitle": "Altitude = 60 km"},
 "width": 434, "height": 340,
 "data": {"name": "p2"},
 "layer": [
  {"mark": {"type": "point", "opacity": 0},
   "encoding": {
    "x": {"field": "f", "type": "quantitative", "scale": {"type": "log", "domain": [1, 100], "nice": false}, "axis": {"orient": "top", "values": [1,2,3,4,5,6,7,8,9,10,20,30,40,50,60,70,80,90,100], "labels": false, "grid": false, "title": null}},
    "y": {"field": "v", "type": "quantitative", "scale": {"type": "log", "domain": [0.1, 100000], "nice": false}, "axis": {"orient": "right", "values": [0.1,0.2,0.3,0.4,0.5,0.6,0.7,0.8,0.9,1,2,3,4,5,6,7,8,9,10,20,30,40,50,60,70,80,90,100,200,300,400,500,600,700,800,900,1000,2000,3000,4000,5000,6000,7000,8000,9000,10000,20000,30000,40000,50000,60000,70000,80000,90000,100000], "labels": false, "grid": false, "title": null}}
   }},
  {"mark": {"type": "line", "clip": true},
   "encoding": {
    "x": {"field": "f", "type": "quantitative", "scale": {"type": "log", "domain": [1, 100], "nice": false}, "axis": {"orient": "bottom", "values": [1,2,3,4,5,6,7,8,9,10,20,30,40,50,60,70,80,90,100], "grid": true, "title": "Frequency [GHz]"}},
    "y": {"field": "v", "type": "quantitative", "scale": {"type": "log", "domain": [0.1, 100000], "nice": false}, "axis": {"orient": "left", "values": [0.1,0.2,0.3,0.4,0.5,0.6,0.7,0.8,0.9,1,2,3,4,5,6,7,8,9,10,20,30,40,50,60,70,80,90,100,200,300,400,500,600,700,800,900,1000,2000,3000,4000,5000,6000,7000,8000,9000,10000,20000,30000,40000,50000,60000,70000,80000,90000,100000], "grid": true, "title": "Attenuation [dB/m]"}},
    "color": {"field": "c", "type": "nominal", "scale": {"domain": ["b0","b05","b1","a1","a2","a3"], "range": ["#ff0000","#0000ff","#ff00ff","#262626","#262626","#262626"]},
     "legend": {"title": null, "legendX": 15, "legendY": 231, "columns": 2, "symbolType": "stroke", "symbolSize": 1225, "symbolOffset": 11.5, "labelFontSize": 12, "rowPadding": 8, "columnPadding": 4, "labelOffset": 15.5, "padding": 5,
      "labelExpr": "datum.value == 'b0' ? 'B = 0 T' : datum.value == 'b05' ? 'B = 0.5 T' : datum.value == 'b1' ? 'B = 1 T' : datum.value == 'a1' ? 'α = 0.5' : datum.value == 'a2' ? 'α = 0.5 x 10⁻¹' : 'α = 0.5 x 10⁻²'",
      "encode": {"symbols": {"update": {"strokeWidth": {"signal": "(datum.value == 'b0' || datum.value == 'b05' || datum.value == 'b1') ? 3 : 1.2"}, "strokeDash": {"signal": "datum.value == 'a2' ? [7,4] : datum.value == 'a3' ? [7,3,1.5,3] : [1,0]"}}}}}},
    "strokeDash": {"field": "d", "type": "nominal", "scale": {"domain": ["a1","a2","a3"], "range": [[1,0],[7,4],[7,3,1.5,3]]}, "legend": null},
    "strokeWidth": {"datum": "α = Collision frequency /Plasma frequency", "type": "nominal", "scale": {"range": [1.1, 1.1]},
     "legend": {"title": null, "legendX": 15, "legendY": 299, "symbolSize": 0, "symbolOpacity": 0, "labelOffset": 0, "padding": 7, "labelFontSize": 12.5}}
   }}
 ],
 "resolve": {"axis": {"x": "independent", "y": "independent"}}
},
{
 "title": {"text": "Ne = 8 x 10¹⁷ m⁻³", "subtitle": "Altitude = 45 km"},
 "width": 424, "height": 342,
 "data": {"name": "p3"},
 "layer": [
  {"mark": {"type": "point", "opacity": 0},
   "encoding": {
    "x": {"field": "f", "type": "quantitative", "scale": {"type": "log", "domain": [0.1, 100], "nice": false}, "axis": {"orient": "top", "values": [0.1,0.2,0.3,0.4,0.5,0.6,0.7,0.8,0.9,1,2,3,4,5,6,7,8,9,10,20,30,40,50,60,70,80,90,100], "labels": false, "grid": false, "title": null}},
    "y": {"field": "v", "type": "quantitative", "scale": {"type": "log", "domain": [0.001, 10000], "nice": false}, "axis": {"orient": "right", "values": [0.001,0.002,0.003,0.004,0.005,0.006,0.007,0.008,0.009,0.01,0.02,0.03,0.04,0.05,0.06,0.07,0.08,0.09,0.1,0.2,0.3,0.4,0.5,0.6,0.7,0.8,0.9,1,2,3,4,5,6,7,8,9,10,20,30,40,50,60,70,80,90,100,200,300,400,500,600,700,800,900,1000,2000,3000,4000,5000,6000,7000,8000,9000,10000], "labels": false, "grid": false, "title": null}}
   }},
  {"mark": {"type": "line", "clip": true},
   "encoding": {
    "x": {"field": "f", "type": "quantitative", "scale": {"type": "log", "domain": [0.1, 100], "nice": false}, "axis": {"orient": "bottom", "values": [0.1,0.2,0.3,0.4,0.5,0.6,0.7,0.8,0.9,1,2,3,4,5,6,7,8,9,10,20,30,40,50,60,70,80,90,100], "grid": true, "title": "Frequency [GHz]"}},
    "y": {"field": "v", "type": "quantitative", "scale": {"type": "log", "domain": [0.001, 10000], "nice": false}, "axis": {"orient": "left", "values": [0.001,0.002,0.003,0.004,0.005,0.006,0.007,0.008,0.009,0.01,0.02,0.03,0.04,0.05,0.06,0.07,0.08,0.09,0.1,0.2,0.3,0.4,0.5,0.6,0.7,0.8,0.9,1,2,3,4,5,6,7,8,9,10,20,30,40,50,60,70,80,90,100,200,300,400,500,600,700,800,900,1000,2000,3000,4000,5000,6000,7000,8000,9000,10000], "grid": true, "title": "Attenuation [dB/m]"}},
    "color": {"field": "c", "type": "nominal", "scale": {"domain": ["b0","b05","b1","a1","a2","a3"], "range": ["#ff0000","#0000ff","#ff00ff","#262626","#262626","#262626"]},
     "legend": {"title": null, "legendX": 9, "legendY": 238, "columns": 2, "symbolType": "stroke", "symbolSize": 1225, "symbolOffset": 11.5, "labelFontSize": 12, "rowPadding": 8, "columnPadding": 4, "labelOffset": 15.5, "padding": 5,
      "labelExpr": "datum.value == 'b0' ? 'B = 0 T' : datum.value == 'b05' ? 'B = 0.5 T' : datum.value == 'b1' ? 'B = 1 T' : datum.value == 'a1' ? 'α = 0.5' : datum.value == 'a2' ? 'α = 0.5 x 10⁻¹' : 'α = 0.5 x 10⁻²'",
      "encode": {"symbols": {"update": {"strokeWidth": {"signal": "(datum.value == 'b0' || datum.value == 'b05' || datum.value == 'b1') ? 3 : 1.2"}, "strokeDash": {"signal": "datum.value == 'a2' ? [7,4] : datum.value == 'a3' ? [7,3,1.5,3] : [1,0]"}}}}}},
    "strokeDash": {"field": "d", "type": "nominal", "scale": {"domain": ["a1","a2","a3"], "range": [[1,0],[7,4],[7,3,1.5,3]]}, "legend": null},
    "strokeWidth": {"datum": "α = Collision frequency /Plasma frequency", "type": "nominal", "scale": {"range": [1.1, 1.1]},
     "legend": {"title": null, "legendX": 9, "legendY": 302, "symbolSize": 0, "symbolOpacity": 0, "labelOffset": 0, "padding": 7, "labelFontSize": 12.5}}
   }}
 ],
 "resolve": {"axis": {"x": "independent", "y": "independent"}}
}
]
}
